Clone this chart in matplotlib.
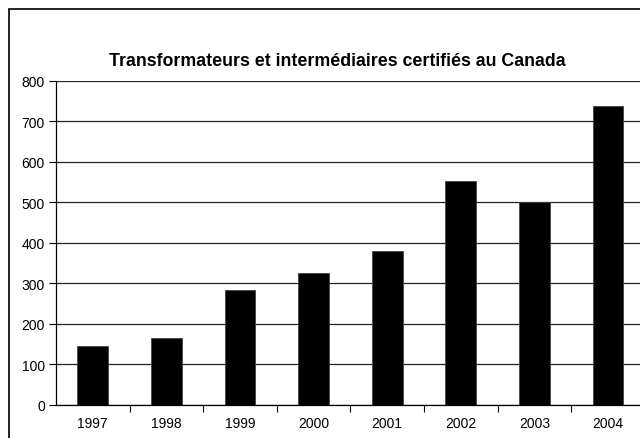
import numpy as np
import matplotlib.pyplot as plt
from matplotlib.patches import Rectangle

# Certified processors and handlers in Canada, per year
years = ["1997", "1998", "1999", "2000", "2001", "2002", "2003", "2004"]
counts = [144, 165, 282, 324, 379, 552, 500, 737]
y_ticks = [0, 100, 200, 300, 400, 500, 600, 700, 800]

plt.rcParams['font.family'] = ['Liberation Sans', 'DejaVu Sans']

fig = plt.figure(figsize=(6.4, 4.39), dpi=100)
ax = fig.add_axes([0.0875, 0.0759, 0.92, 0.738])

x = np.arange(len(years))
ax.bar(x, counts, width=0.42, color="black", edgecolor="#444444", linewidth=0.6, zorder=3)

ax.set_xlim(-0.5, len(years) - 0.5)
ax.set_ylim(0, 800)
ax.set_yticks(y_ticks)
ax.set_yticklabels([str(v) for v in y_ticks], fontsize=10)
ax.set_xticks(x)
ax.set_xticklabels(years, fontsize=10)
ax.tick_params(axis="x", length=0, pad=8)
ax.set_xticks(np.arange(len(years)) + 0.5, minor=True)
ax.tick_params(axis="x", which="minor", length=5, width=0.8, direction="out")
ax.tick_params(axis="y", length=5, width=0.8, direction="out", pad=3)

ax.grid(axis="y", color="#222222", linewidth=0.9, zorder=0)
ax.spines["top"].set_visible(False)
ax.spines["right"].set_visible(False)
ax.spines["left"].set_linewidth(0.9)
ax.spines["bottom"].set_linewidth(0.9)

fig.text(337 / 640, 1 - 61 / 439, "Transformateurs et intermédiaires certifiés au Canada",
         ha="center", va="center", fontsize=12.8, fontweight="bold")

# outer chart frame (cut off at right and bottom)
fig.patches.append(Rectangle((9 / 640, -0.1), 1.2, 1.1 - 10 / 439,
                             transform=fig.transFigure, fill=False,
                             edgecolor="black", linewidth=1.2))

fig.savefig("out.png", dpi=100)
